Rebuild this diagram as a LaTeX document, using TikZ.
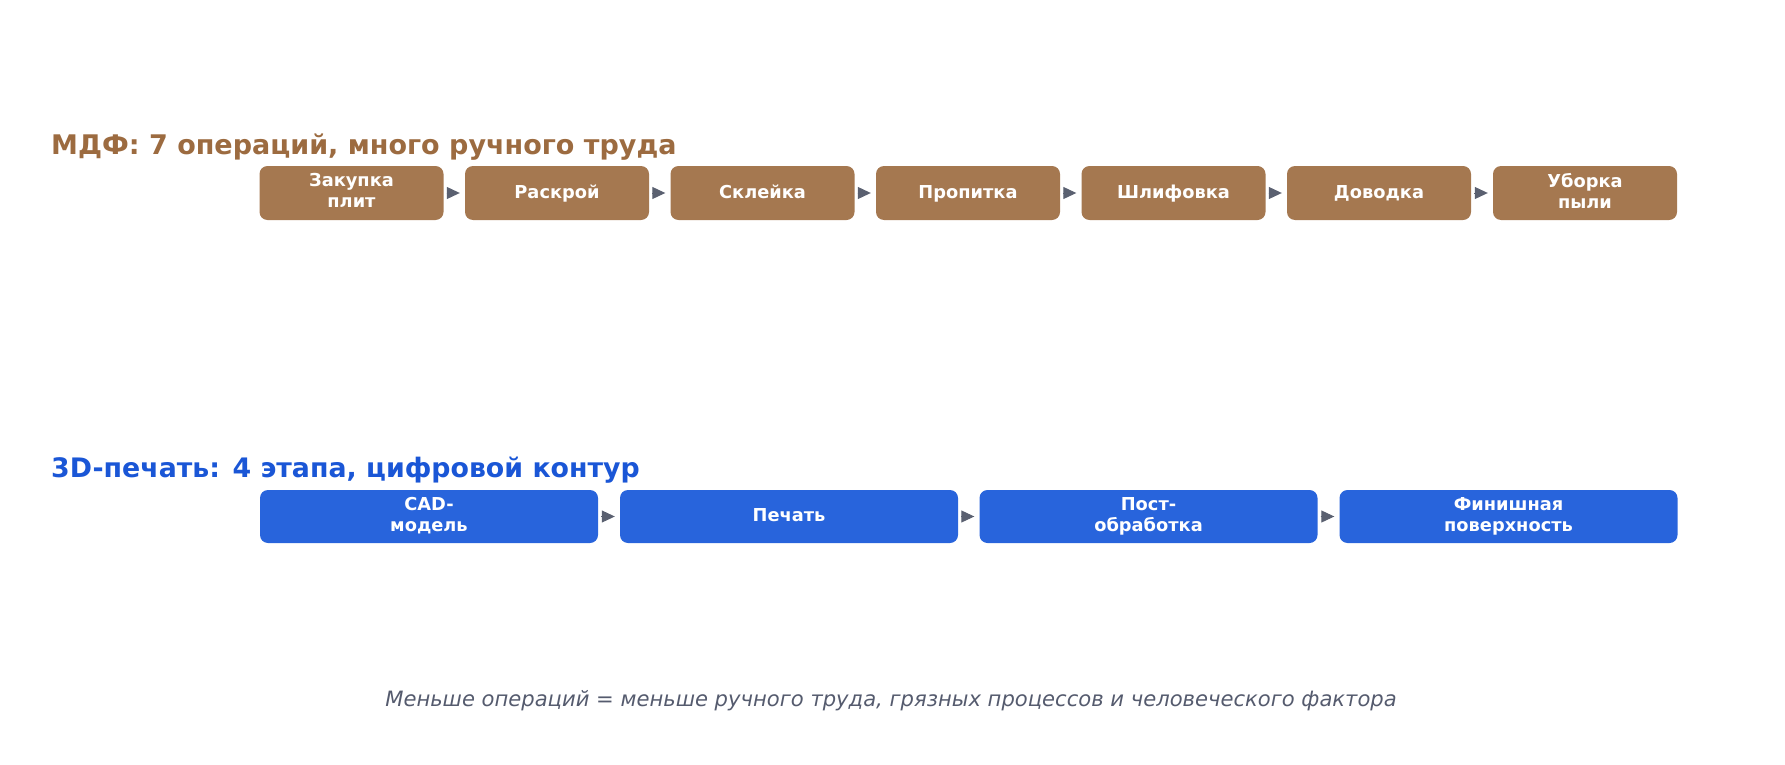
\documentclass[tikz,border=0pt]{standalone}
\usepackage{fontspec}
\setmainfont{DejaVu Sans}
\usetikzlibrary{arrows.meta}

\definecolor{mdfbox}{HTML}{A57850}
\definecolor{mdftitle}{HTML}{9C6B40}
\definecolor{printbox}{HTML}{2864DC}
\definecolor{printtitle}{HTML}{1A56D6}
\definecolor{arrowgray}{HTML}{5A6070}
\definecolor{notegray}{HTML}{555B6E}

\newcommand{\boxstrut}{\vrule width0pt height15.5pt depth4.7pt}

\begin{document}
\begin{tikzpicture}[x=1pt, y=-1pt,
	every node/.style={inner sep=0pt},
	mdf/.style={rectangle, rounded corners=8pt, fill=mdfbox, text=white, minimum width=184pt, minimum height=54pt, align=center, font=\fontsize{17.8}{21}\selectfont\bfseries, execute at begin node=\boxstrut, execute at end node=\boxstrut},
	prn/.style={mdf, fill=printbox, minimum width=338pt, minimum height=53pt}]
	
	\tikzset{edge/.style = {-{Triangle[length=13pt,width=12pt]}, draw=arrowgray, fill=arrowgray, line width=1pt, shorten <=3pt, shorten >=5pt}}
	
	\useasboundingbox (0,0) rectangle (1785,765);
	
	\node[anchor=base west, text=mdftitle, font=\fontsize{27}{30}\selectfont\bfseries] (t1) at (51,154) {МДФ: 7 операций, много ручного труда};
	
	\node[mdf] (1) at (351.5,193) {Закупка\\плит};
	\node[mdf] (2) at (557,193)   {Раскрой};
	\node[mdf] (3) at (762.5,193) {Склейка};
	\node[mdf] (4) at (968,193)   {Пропитка};
	\node[mdf] (5) at (1173.5,193) {Шлифовка};
	\node[mdf] (6) at (1379,193)  {Доводка};
	\node[mdf] (7) at (1585,193)  {Уборка\\пыли};
	
	\node[anchor=base west, text=printtitle, font=\fontsize{26.8}{30}\selectfont\bfseries] (t2) at (51,477) {3D-печать: 4 этапа, цифровой контур};
	
	\node[prn] (8)  at (429,516.5)    {CAD-\\модель};
	\node[prn] (9)  at (789,516.5)    {Печать};
	\node[prn] (10) at (1148.5,516.5) {Пост-\\обработка};
	\node[prn] (11) at (1508.5,516.5) {Финишная\\поверхность};
	
	\node[anchor=base, text=notegray, font=\fontsize{21.1}{25}\selectfont\itshape] (note) at (891,706.5) {Меньше операций = меньше ручного труда, грязных процессов и человеческого фактора};
	
	\foreach \source/\dest in {1/2,2/3,3/4,4/5,5/6,6/7,8/9,9/10,10/11}
	\draw[edge] (\source) to (\dest);
	
\end{tikzpicture}
\end{document}
